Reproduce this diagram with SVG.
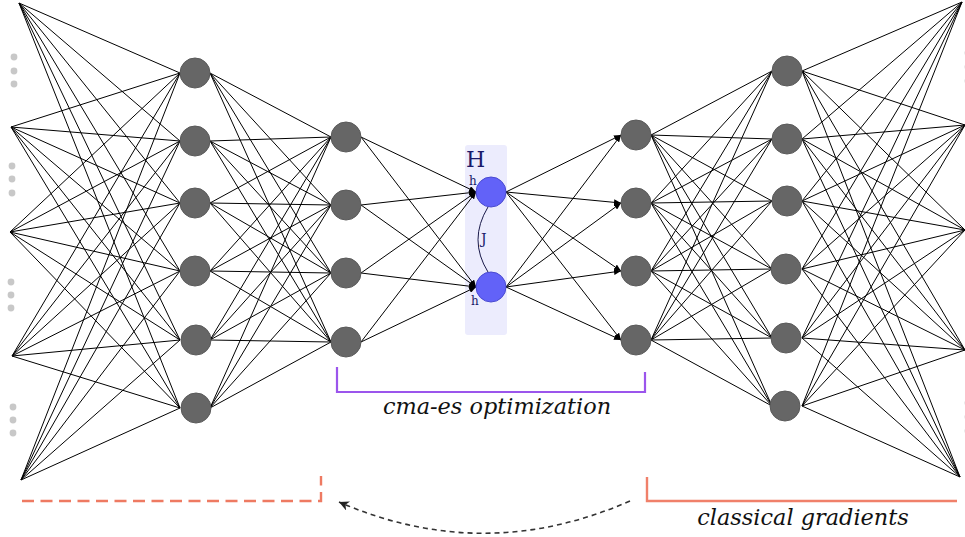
<svg xmlns="http://www.w3.org/2000/svg" width="965" height="537" viewBox="0 0 965 537">
  <style>
    .edge { fill: none; stroke: #000; stroke-width: 1; }
    .arrow { stroke: #000; stroke-width: 1; marker-end: url(#tip); }
    .unit { fill: #666; stroke: #5a5a5a; stroke-width: 1; }
    .hid { fill: #6262f8; stroke: #4a4ad0; stroke-width: 1; }
    .more { fill: #c8c8c8; }
    .lbl { font-family: "DejaVu Serif", "Liberation Serif", serif; font-style: italic; font-size: 22.4px; fill: #111; }
    .sym { font-family: "DejaVu Serif", "Liberation Serif", serif; fill: #1a1a6a; }
  </style>
  <defs>
    <marker id="tip" markerUnits="userSpaceOnUse" markerWidth="8" markerHeight="6" refX="7" refY="3" orient="auto">
      <path d="M0,0 L7,3 L0,6 Z" fill="#000"/>
    </marker>
    <marker id="tipDash" markerUnits="userSpaceOnUse" markerWidth="12" markerHeight="10" refX="10" refY="5" orient="auto">
      <path d="M0,0 L10,5 L0,10 L3,5 Z" fill="#222"/>
    </marker>
  </defs>
  <rect width="965" height="537" fill="#fff"/>

  <!-- shaded band behind the H layer -->
  <rect x="465" y="145" width="42" height="190" rx="3" fill="#ececfd"/>

  <!-- connectors -->
  <g id="connectors">
    <!-- inputs to first hidden layer -->
    <path class="edge" d="M19,3L180,73M19,3L180,141M19,3L180,203M19,3L180,271M19,3L180,340M19,3L180,408
      M11,127L180,73M11,127L180,141M11,127L180,203M11,127L180,271M11,127L180,340M11,127L180,408
      M10,232L180,73M10,232L180,141M10,232L180,203M10,232L180,271M10,232L180,340M10,232L180,408
      M12,356L180,73M12,356L180,141M12,356L180,203M12,356L180,271M12,356L180,340M12,356L180,408
      M21,480L180,73M21,480L180,141M21,480L180,203M21,480L180,271M21,480L180,340M21,480L180,408"/>
    <!-- first hidden layer to second hidden layer -->
    <path class="edge" d="M210,73L331,137M210,73L331,205M210,73L331,273M210,73L331,342
      M210,141L331,137M210,141L331,205M210,141L331,273M210,141L331,342
      M210,203L331,137M210,203L331,205M210,203L331,273M210,203L331,342
      M210,271L331,137M210,271L331,205M210,271L331,273M210,271L331,342
      M210,340L331,137M210,340L331,205M210,340L331,273M210,340L331,342
      M210,408L331,137M210,408L331,205M210,408L331,273M210,408L331,342"/>
    <!-- second hidden layer into H -->
    <line class="arrow" x1="361" y1="137" x2="476" y2="192"/>
    <line class="arrow" x1="361" y1="205" x2="476" y2="192"/>
    <line class="arrow" x1="361" y1="273" x2="476" y2="192"/>
    <line class="arrow" x1="361" y1="342" x2="476" y2="192"/>
    <line class="arrow" x1="361" y1="137" x2="476" y2="287"/>
    <line class="arrow" x1="361" y1="205" x2="476" y2="287"/>
    <line class="arrow" x1="361" y1="273" x2="476" y2="287"/>
    <line class="arrow" x1="361" y1="342" x2="476" y2="287"/>
    <!-- H out to the decoder -->
    <line class="arrow" x1="506" y1="192" x2="621" y2="135"/>
    <line class="arrow" x1="506" y1="192" x2="621" y2="203"/>
    <line class="arrow" x1="506" y1="192" x2="621" y2="271"/>
    <line class="arrow" x1="506" y1="192" x2="621" y2="340"/>
    <line class="arrow" x1="506" y1="287" x2="621" y2="135"/>
    <line class="arrow" x1="506" y1="287" x2="621" y2="203"/>
    <line class="arrow" x1="506" y1="287" x2="621" y2="271"/>
    <line class="arrow" x1="506" y1="287" x2="621" y2="340"/>
    <!-- coupling J between the two H units -->
    <path d="M488,207 Q468,240 488,272" fill="none" stroke="#1a1a4a" stroke-width="1"/>
    <!-- third hidden layer to fourth hidden layer -->
    <path class="edge" d="M651,135L772,71M651,135L772,139M651,135L772,201M651,135L772,269M651,135L772,338M651,135L772,406
      M651,203L772,71M651,203L772,139M651,203L772,201M651,203L772,269M651,203L772,338M651,203L772,406
      M651,271L772,71M651,271L772,139M651,271L772,201M651,271L772,269M651,271L772,338M651,271L772,406
      M651,340L772,71M651,340L772,139M651,340L772,201M651,340L772,269M651,340L772,338M651,340L772,406"/>
    <!-- fourth hidden layer to outputs -->
    <path class="edge" d="M802,71L962,2M802,71L965,125M802,71L965,230M802,71L965,350M802,71L960,477
      M802,139L962,2M802,139L965,125M802,139L965,230M802,139L965,350M802,139L960,477
      M802,201L962,2M802,201L965,125M802,201L965,230M802,201L965,350M802,201L960,477
      M802,269L962,2M802,269L965,125M802,269L965,230M802,269L965,350M802,269L960,477
      M802,338L962,2M802,338L965,125M802,338L965,230M802,338L965,350M802,338L960,477
      M802,406L962,2M802,406L965,125M802,406L965,230M802,406L965,350M802,406L960,477"/>
  </g>

  <!-- ellipsis dots between input / output points -->
  <g id="ellipsis-left">
    <circle class="more" cx="14" cy="57" r="3.4"/><circle class="more" cx="14" cy="71" r="3.4"/><circle class="more" cx="14" cy="84" r="3.4"/>
    <circle class="more" cx="12" cy="166" r="3.4"/><circle class="more" cx="12" cy="179" r="3.4"/><circle class="more" cx="12" cy="193" r="3.4"/>
    <circle class="more" cx="11" cy="282" r="3.4"/><circle class="more" cx="11" cy="295" r="3.4"/><circle class="more" cx="11" cy="308" r="3.4"/>
    <circle class="more" cx="13" cy="407" r="3.4"/><circle class="more" cx="13" cy="420" r="3.4"/><circle class="more" cx="13" cy="433" r="3.4"/>
  </g>
  <g id="ellipsis-right">
    <circle class="more" cx="968" cy="53" r="3.4"/><circle class="more" cx="968" cy="67" r="3.4"/><circle class="more" cx="968" cy="81" r="3.4"/>
    <circle class="more" cx="968" cy="403" r="3.4"/><circle class="more" cx="968" cy="417" r="3.4"/><circle class="more" cx="968" cy="431" r="3.4"/>
  </g>

  <!-- first hidden layer -->
  <g id="a1"><circle class="unit" cx="195" cy="73" r="15"/></g>
  <g id="a2"><circle class="unit" cx="195" cy="141" r="15"/></g>
  <g id="a3"><circle class="unit" cx="195" cy="203" r="15"/></g>
  <g id="a4"><circle class="unit" cx="195" cy="271" r="15"/></g>
  <g id="a5"><circle class="unit" cx="196" cy="340" r="15"/></g>
  <g id="a6"><circle class="unit" cx="196" cy="408" r="15"/></g>

  <!-- second hidden layer -->
  <g id="b1"><circle class="unit" cx="346" cy="137" r="15"/></g>
  <g id="b2"><circle class="unit" cx="346" cy="205" r="15"/></g>
  <g id="b3"><circle class="unit" cx="346" cy="273" r="15"/></g>
  <g id="b4"><circle class="unit" cx="346" cy="342" r="15"/></g>

  <!-- H layer -->
  <g id="H">
    <text class="sym" x="466" y="167" font-size="22">H</text>
    <g id="h1">
      <circle class="hid" cx="491" cy="192" r="15"/>
      <text class="sym" x="469" y="185" font-size="12">h</text>
    </g>
    <g id="h2">
      <circle class="hid" cx="491" cy="287" r="15"/>
      <text class="sym" x="471" y="305" font-size="12">h</text>
    </g>
    <text class="sym" x="481" y="244" font-size="14">J</text>
  </g>

  <!-- third hidden layer -->
  <g id="c1"><circle class="unit" cx="636" cy="135" r="15"/></g>
  <g id="c2"><circle class="unit" cx="636" cy="203" r="15"/></g>
  <g id="c3"><circle class="unit" cx="636" cy="271" r="15"/></g>
  <g id="c4"><circle class="unit" cx="636" cy="340" r="15"/></g>

  <!-- fourth hidden layer -->
  <g id="d1"><circle class="unit" cx="787" cy="71" r="15"/></g>
  <g id="d2"><circle class="unit" cx="787" cy="139" r="15"/></g>
  <g id="d3"><circle class="unit" cx="787" cy="201" r="15"/></g>
  <g id="d4"><circle class="unit" cx="786" cy="269" r="15"/></g>
  <g id="d5"><circle class="unit" cx="786" cy="338" r="15"/></g>
  <g id="d6"><circle class="unit" cx="785" cy="406" r="15"/></g>

  <!-- cma-es bracket -->
  <g id="cma-es">
    <path d="M337,367 V392 H645 V372" fill="none" stroke="#9b55ec" stroke-width="2.2"/>
    <text class="lbl" x="497" y="414" text-anchor="middle">cma-es optimization</text>
  </g>

  <!-- gradient brackets -->
  <g id="encoder-bracket">
    <path d="M22,501 H321 V476" fill="none" stroke="#ee7a62" stroke-width="2.4" stroke-dasharray="12,6.5"/>
  </g>
  <g id="decoder-bracket">
    <path d="M647,477 V501 H957" fill="none" stroke="#f0806a" stroke-width="2.4"/>
    <text class="lbl" x="803" y="525" text-anchor="middle">classical gradients</text>
  </g>

  <!-- weight transfer arrow -->
  <g id="transfer">
    <path d="M630,501 Q484,565 339,502" fill="none" stroke="#333" stroke-width="1.6" stroke-dasharray="5,4" marker-end="url(#tipDash)"/>
  </g>
</svg>
